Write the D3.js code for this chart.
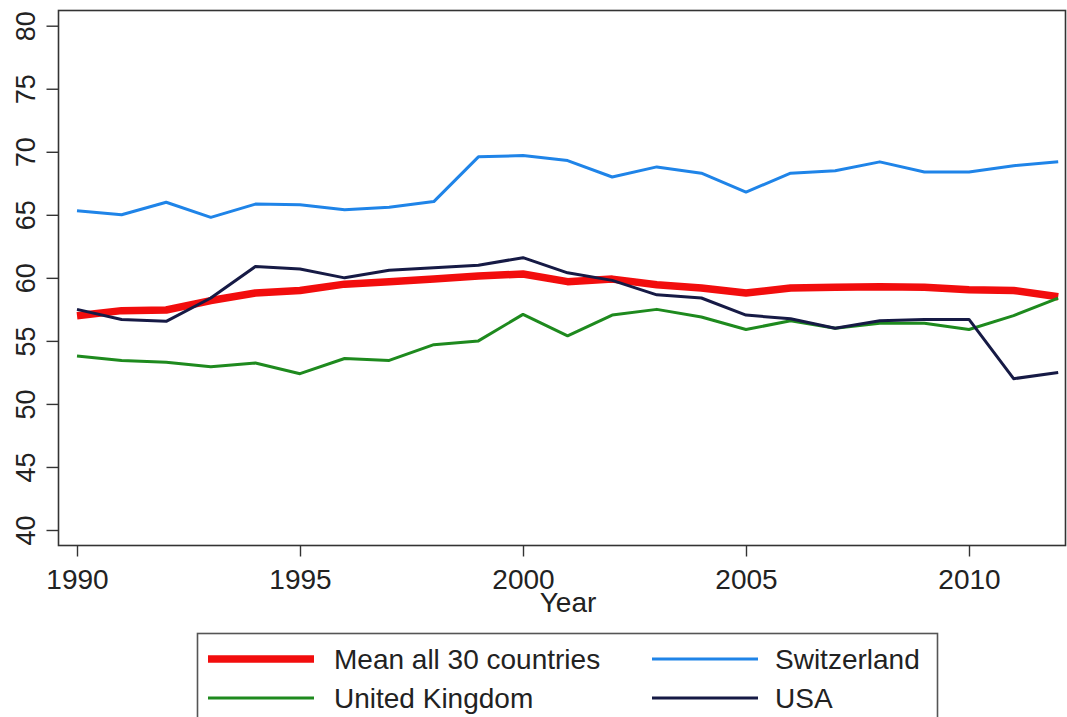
<!DOCTYPE html>
<html>
<head>
<meta charset="utf-8">
<script src="https://cdn.jsdelivr.net/npm/d3@7"></script>
<style>
  html, body { margin: 0; padding: 0; background: #fff; }
  svg { display: block; font-family: "Liberation Sans", Arial, sans-serif; }
</style>
</head>
<body>
<svg id="chart" width="1067" height="717"></svg>
<script>
// Year axis
const years = d3.range(1990, 2013);
const xTicks = [1990, 1995, 2000, 2005, 2010];
const yTicks = [40, 45, 50, 55, 60, 65, 70, 75, 80];

// Series values, one per year 1990–2012
const meanAll = [57.0, 57.4, 57.45, 58.2, 58.8, 59.0, 59.5, 59.7, 59.9, 60.15, 60.3, 59.7, 59.9, 59.45, 59.2, 58.8, 59.2, 59.25, 59.3, 59.25, 59.05, 59.0, 58.5];
const switzerland = [65.33, 65.0, 66.0, 64.8, 65.85, 65.8, 65.4, 65.6, 66.05, 69.6, 69.7, 69.3, 68.0, 68.8, 68.3, 66.8, 68.3, 68.5, 69.2, 68.4, 68.4, 68.9, 69.2];
const unitedKingdom = [53.8, 53.45, 53.3, 52.95, 53.25, 52.4, 53.6, 53.45, 54.7, 55.0, 57.1, 55.4, 57.05, 57.5, 56.9, 55.9, 56.6, 56.0, 56.4, 56.4, 55.9, 57.0, 58.4];
const usa = [57.5, 56.7, 56.55, 58.4, 60.9, 60.7, 60.0, 60.6, 60.8, 61.0, 61.6, 60.4, 59.8, 58.65, 58.4, 57.05, 56.75, 56.0, 56.6, 56.7, 56.7, 52.0, 52.5];

const seriesNames = ["Mean all 30 countries", "Switzerland", "United Kingdom", "USA"];
const seriesColors = ["#f20d0d", "#1f84e8", "#1e8a1e", "#161a45"];
const seriesWidths = [7.5, 3, 3, 3];
const seriesValues = [meanAll, switzerland, unitedKingdom, usa];

const svg = d3.select("#chart");

const frame = { left: 58.5, right: 1065.5, top: 10.5, bottom: 545.5 };

const x = d3.scaleLinear().domain([1990, 2012]).range([77, 1058.2]);
const y = d3.scaleLinear().domain([40, 80]).range([530, 25.7]);

// Plot region outline
svg.append("rect")
  .attr("x", frame.left).attr("y", frame.top)
  .attr("width", frame.right - frame.left)
  .attr("height", frame.bottom - frame.top)
  .attr("fill", "none").attr("stroke", "#333").attr("stroke-width", 1.6);

// Y axis, labels rotated to read upwards
const yAxis = svg.append("g")
  .attr("transform", `translate(${frame.left},0)`)
  .call(d3.axisLeft(y).tickValues(yTicks).tickSize(12).tickFormat(d3.format("d")));
yAxis.select(".domain").remove();
yAxis.selectAll(".tick line").attr("stroke", "#333").attr("stroke-width", 1.4);
yAxis.selectAll(".tick text")
  .attr("x", 0).attr("y", -24).attr("dy", 0)
  .attr("transform", "rotate(-90)")
  .attr("text-anchor", "middle")
  .attr("fill", "#222")
  .style("font-size", "27px");

// X axis
const xAxis = svg.append("g")
  .attr("transform", `translate(0,${frame.bottom})`)
  .call(d3.axisBottom(x).tickValues(xTicks).tickSize(11).tickFormat(d3.format("d")));
xAxis.select(".domain").remove();
xAxis.selectAll(".tick line").attr("stroke", "#333").attr("stroke-width", 1.4);
xAxis.selectAll(".tick text")
  .attr("y", 43).attr("dy", 0)
  .attr("fill", "#222")
  .style("font-size", "28px");

svg.append("text")
  .attr("x", 568).attr("y", 612)
  .attr("text-anchor", "middle")
  .attr("fill", "#222")
  .style("font-size", "28px")
  .text("Year");

// One polyline per series
const line = d3.line().x((d, i) => x(years[i])).y(d => y(d));
svg.append("g").selectAll("path")
  .data(seriesValues.map((v, i) => i))
  .join("path")
  .attr("d", i => line(seriesValues[i]))
  .attr("fill", "none")
  .attr("stroke", i => seriesColors[i])
  .attr("stroke-width", i => seriesWidths[i])
  .attr("stroke-linejoin", "round");

// Legend, two columns
const legend = svg.append("g");
legend.append("rect")
  .attr("x", 197.5).attr("y", 633.5)
  .attr("width", 740).attr("height", 100)
  .attr("fill", "#fff").attr("stroke", "#555").attr("stroke-width", 1.6);

const legendItems = [
  { idx: 0, lx: 208, ly: 659 },
  { idx: 1, lx: 652, ly: 659 },
  { idx: 2, lx: 208, ly: 698 },
  { idx: 3, lx: 652, ly: 698 }
];
const legendG = legend.selectAll("g.item")
  .data(legendItems)
  .join("g").attr("class", "item");
legendG.append("line")
  .attr("x1", d => d.lx).attr("x2", d => d.lx + 106)
  .attr("y1", d => d.ly).attr("y2", d => d.ly)
  .attr("stroke", d => seriesColors[d.idx])
  .attr("stroke-width", d => seriesWidths[d.idx]);
legendG.append("text")
  .attr("x", d => d.lx + (d.idx === 0 || d.idx === 2 ? 126 : 123))
  .attr("y", d => d.ly + 10)
  .attr("fill", "#222")
  .style("font-size", "28px")
  .text(d => seriesNames[d.idx]);
</script>
</body>
</html>
